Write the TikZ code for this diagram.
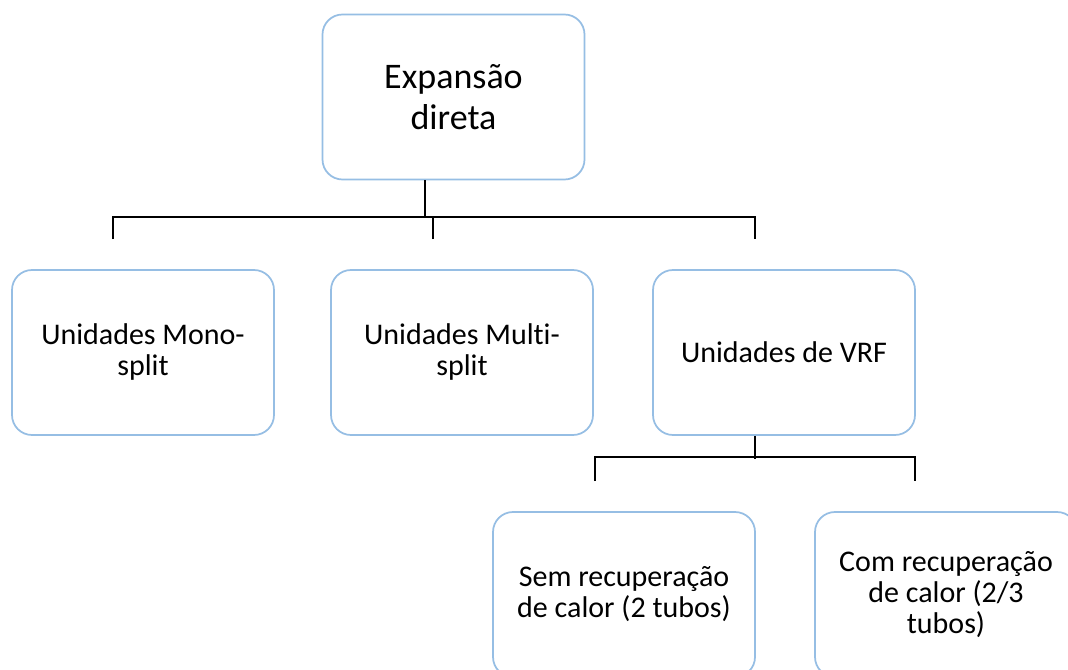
\documentclass[tikz,border=0pt]{standalone}
\usepackage{fontspec}
\setmainfont[Ligatures=NoCommon]{Carlito}
\usetikzlibrary{positioning,calc}
\definecolor{boxblue}{RGB}{150,190,228}

\begin{document}
\begin{tikzpicture}[x=0.75pt,y=-0.75pt,
        box/.style={rectangle, draw=boxblue, line width=1.3pt, rounded corners=15pt, fill=white, minimum width=196.5pt, minimum height=123.75pt, align=center, font=\fontsize{22.5}{23.25}\selectfont},
        topbox/.style={box, font=\fontsize{27}{30.75}\selectfont},
        link/.style={line width=1.6pt, black}
    ]
        \useasboundingbox (0,0) rectangle (1068,670);
        \fill[white] (0,0) rectangle (1068,670);
        \clip (0,0) rectangle (1068,670);

        % Level 1
        \node[topbox] (top) at (453.5,97) {Expansão\\direta};

        % Level 2
        \node[box] (mono) at (143,352.5) {Unidades Mono-\\split};
        \node[box] (multi) at (462,352.5) {Unidades Multi-\\split};
        \node[box] (vrf) at (784,352.5) {Unidades de VRF};

        % Level 3
        \node[box] (sem) at (624,594.5) {Sem recuperação\\de calor (2 tubos)};
        \node[box] (com) at (946,594.5) {Com recuperação\\de calor (2/3\\tubos)};

        % Connectors - level 1 to level 2
        \draw[link] ([xshift=-21.4pt]top.south) -- ++(0,38);
        \draw[link] ($([xshift=-22.5pt]mono.north)+(0,-30)$) -- ++(0,-22) -| ($([xshift=-21.75pt]vrf.north)+(0,-30)$);
        \draw[link] ($([xshift=-21.75pt]multi.north)+(0,-30)$) -- ++(0,-22);

        % Connectors - VRF to level 3
        \draw[link] ([xshift=-21.75pt]vrf.south) -- ++(0,23);
        \draw[link] ($([xshift=-21.75pt]sem.north)+(0,-30)$) -- ++(0,-24) -| ($([xshift=-23.25pt]com.north)+(0,-30)$);
    \end{tikzpicture}
\end{document}
